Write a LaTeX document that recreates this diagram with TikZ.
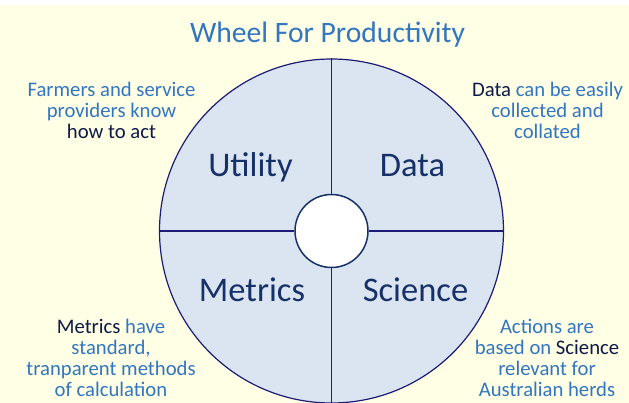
\documentclass[tikz,border=0pt]{standalone}
\usepackage{fontspec}
\setmainfont{Carlito}
\usepackage{tikz}
\usetikzlibrary{positioning}
\definecolor{fondo}{RGB}{255,255,230}
\definecolor{relleno}{RGB}{219,228,241}
\definecolor{marino}{RGB}{28,28,118}
\definecolor{azul}{RGB}{50,118,192}
\definecolor{oscuro}{RGB}{14,26,70}
\definecolor{letrasector}{RGB}{22,48,104}
\tikzstyle{rueda} = [circle, draw=marino, fill=relleno, line width=1.2pt, minimum size=344pt, inner sep=0pt]
\tikzstyle{eje} = [circle, draw=letrasector, fill=white, line width=1.5pt, minimum size=73pt, inner sep=0pt]
\tikzstyle{radio} = [draw=marino, line width=1.2pt]
\tikzstyle{sector} = [text=letrasector, font=\fontsize{34.5}{40}\selectfont, anchor=base, inner sep=0pt]
\tikzstyle{nota} = [text=azul, align=center, font=\fontsize{20.7}{21}\selectfont, anchor=base, inner sep=0pt]
\tikzstyle{titulo} = [text=azul, font=\fontsize{29.6}{36}\selectfont, anchor=base, inner sep=0pt]
\newcommand{\resalta}[1]{\textcolor{oscuro}{#1}}

\begin{document}
\begin{tikzpicture}[x=1pt,y=-1pt]
	\useasboundingbox (0,0) rectangle (629,403);
	\fill[white] (0,0) rectangle (629,5);
	\fill[fondo] (0,5) rectangle (629,403);
	\node[rueda] (rueda) at (331.5,231) {};
	\node[eje] (eje) at (rueda.center) {};
	\draw[radio] (eje.north) -- (rueda.north);
	\draw[radio] (eje.south) -- (rueda.south);
	\draw[radio] (eje.west) -- (rueda.west);
	\draw[radio, line width=2pt] (eje.east) -- (rueda.east);
	\node[titulo] (titulo) at (327.5,42.3) {Wheel For Productivity};
	\node[sector] (utility) at (250.5,176.7) {Utility};
	\node[sector] (data) at (412.5,176.7) {Data};
	\node[sector] (metrics) at (252,301.7) {Metrics};
	\node[sector] (science) at (415.5,301.7) {Science};
	% la ancla base queda en la ultima linea
	\node[nota] (notautility) at (111.5,139) {Farmers and service\\providers know\\\resalta{how to act}};
	\node[nota] (notadata) at (547.5,139) {\resalta{Data} can be easily\\collected and\\collated};
	\node[nota] (notametrics) at (111,396.5) {\resalta{Metrics} have\\standard,\\tranparent methods\\of calculation};
	\node[nota] (notascience) at (547,396.5) {Actions are\\based on \resalta{Science}\\relevant for\\Australian herds};
\end{tikzpicture}
\end{document}
